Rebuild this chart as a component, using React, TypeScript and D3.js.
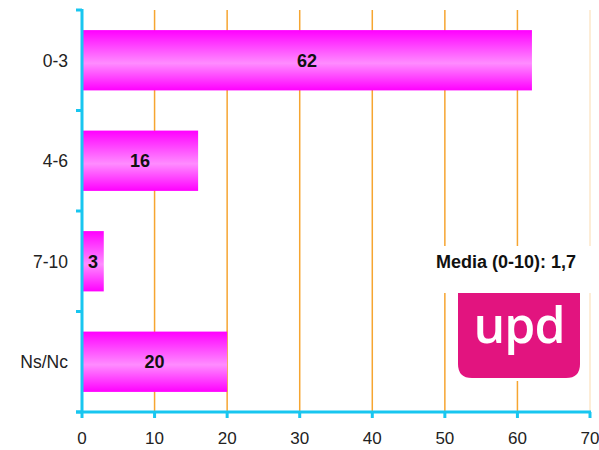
import * as d3 from 'd3';

const categories = ['0-3', '4-6', '7-10', 'Ns/Nc'];
const values = [62, 16, 3, 20];
const xTicks = [0, 10, 20, 30, 40, 50, 60, 70];
const mediaLabel = 'Media (0-10): 1,7';

export default function App() {
  const width = 599;
  const height = 450;
  const x = d3.scaleLinear().domain([0, 70]).range([82, 590]);
  const y = d3.scaleBand<string>().domain(categories).range([10, 412]).paddingInner(0.4).paddingOuter(0.2);
  const axisColor = '#18c6f0';
  const gridColor = '#f6a531';
  const font = 'Arial, "Liberation Sans", sans-serif';
  const bounds = [10, ...categories.map((c) => (y(c) as number) + y.bandwidth() + y.step() * 0.2)];

  return (
    <svg width={width} height={height} style={{ position: 'absolute', left: 0, top: 0, background: '#fff' }}>
      <defs>
        <linearGradient id="barGrad" x1="0" y1="0" x2="0" y2="1">
          <stop offset="0" stopColor="#ff00ff" />
          <stop offset="0.55" stopColor="#ff8cff" />
          <stop offset="1" stopColor="#ff00ff" />
        </linearGradient>
      </defs>

      {/* gridlines */}
      {xTicks.slice(1).map((t) => (
        <line key={t} x1={x(t)} x2={x(t)} y1={10} y2={412} stroke={gridColor} strokeWidth={1.5}
          opacity={t === 70 ? 0.25 : 1} />
      ))}

      {/* bars */}
      {categories.map((c, i) => (
        <g key={c}>
          <rect x={x(0)} y={y(c)} width={x(values[i]) - x(0)} height={y.bandwidth()} fill="url(#barGrad)" />
          <text x={(x(0) + x(values[i])) / 2} y={(y(c) as number) + y.bandwidth() / 2 + 6.5}
            textAnchor="middle" fontFamily={font} fontWeight="bold" fontSize={18} fill="#111">
            {values[i]}
          </text>
          <text x={68} y={(y(c) as number) + y.bandwidth() / 2 + 6.5} textAnchor="end"
            fontFamily={font} fontSize={17.5} fill="#222">
            {c}
          </text>
        </g>
      ))}

      {/* media label + logo */}
      <rect x={430} y={246} width={169} height={47} fill="#fff" />
      <text x={506} y={268} textAnchor="middle" fontFamily={font} fontWeight="bold" fontSize={18} fill="#111">
        {mediaLabel}
      </text>
      <rect x={452} y={293} width={134} height={88} fill="#fff" />
      <path d="M458,293 H580 V364 Q580,378 566,378 H472 Q458,378 458,364 Z" fill="#e2147f" />
      <text x={519} y={343} textAnchor="middle" fontFamily={'"Open Sans", sans-serif'} fontWeight={600}
        fontSize={50} fill="#fff" letterSpacing={-1}>
        upd
      </text>

      {/* left axis */}
      <line x1={82} x2={82} y1={9} y2={413} stroke={axisColor} strokeWidth={3} />
      {bounds.map((b, i) => (
        <line key={i} x1={76} x2={82} y1={b} y2={b} stroke={axisColor} strokeWidth={3} />
      ))}

      {/* bottom axis */}
      <line x1={76} x2={591} y1={412} y2={412} stroke={axisColor} strokeWidth={3} />
      {xTicks.map((t) => (
        <g key={t}>
          <line x1={x(t)} x2={x(t)} y1={412} y2={418} stroke={axisColor} strokeWidth={3} />
          <text x={x(t)} y={444} textAnchor="middle" fontFamily={font} fontSize={17} fill="#222">
            {t}
          </text>
        </g>
      ))}
    </svg>
  );
}
